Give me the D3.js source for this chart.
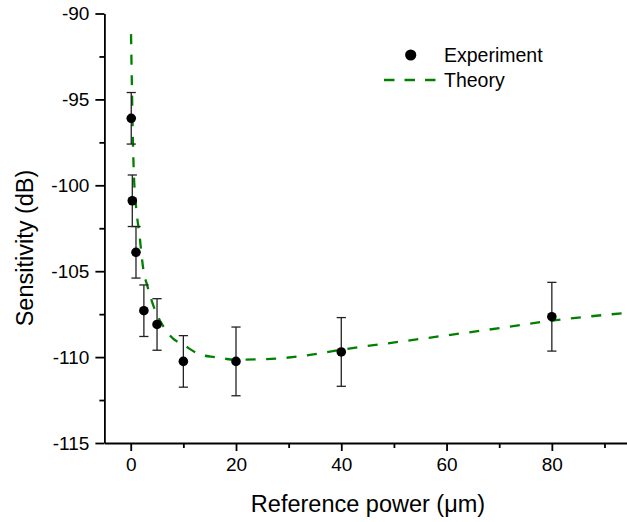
<!DOCTYPE html>
<html>
<head>
<meta charset="utf-8">
<script src="https://cdn.jsdelivr.net/npm/d3@7"></script>
<style>
  body { margin: 0; background: #fff; }
  svg text { font-family: "Liberation Sans", Arial, Helvetica, sans-serif; fill: #000; }
  .axis path, .axis line { stroke: #000; stroke-width: 1.8; }
</style>
</head>
<body>
<svg id="chart"></svg>
<script>
// measured points
var expPower = [0.1, 0.3, 1, 2.5, 5, 10, 20, 40, 80]
var expSens = [-96.1, -100.9, -103.9, -107.3, -108.1, -110.25, -110.25, -109.7, -107.65]
var expErr = [1.5, 1.5, 1.5, 1.5, 1.5, 1.5, 2, 2, 2]

// theory curve
var theoryPower = [0.06, 0.2, 0.44, 0.57, 1.0, 1.63, 2.4, 3.2, 4.3, 7.1, 10.6, 13.2, 16, 20, 25.8, 32.2, 40.4, 51.2, 66.4, 80.8, 95]
var theorySens = [-91.2, -93.8, -97.7, -99.1, -101.2, -102.8, -104.9, -105.9, -107.0, -108.6, -109.4, -109.85, -110.0, -110.15, -110.12, -109.95, -109.55, -109.1, -108.47, -107.85, -107.4]

var xTicks = [0, 20, 40, 60, 80]
var xMinorTicks = [10, 30, 50, 70, 90]
var yTicks = [-115, -110, -105, -100, -95, -90]
var yMinorTicks = [-112.5, -107.5, -102.5, -97.5, -92.5]
var legendLabels = ['Experiment', 'Theory']

var width = 627, height = 522
var svg = d3.select('#chart').attr('width', width).attr('height', height)

var x = d3.scaleLinear().domain([-5, 95]).range([104.4, 630.8])
var y = d3.scaleLinear().domain([-115, -90]).range([443, 13.5])
var green = '#008000'

// axes
var xAxis = svg.append('g')
  .attr('class', 'x axis')
  .attr('transform', 'translate(0,' + y(-115) + ')')
  .call(d3.axisBottom(x).tickValues(xTicks).tickSize(8).tickSizeOuter(0).tickPadding(7))
xAxis.selectAll('text').style('font-size', '19px')

svg.append('g')
  .attr('class', 'x axis')
  .attr('transform', 'translate(0,' + y(-115) + ')')
  .call(d3.axisBottom(x).tickValues(xMinorTicks).tickSize(5).tickSizeOuter(0).tickFormat(''))
  .select('.domain').remove()

var yAxis = svg.append('g')
  .attr('class', 'y axis')
  .attr('transform', 'translate(' + x(-5) + ',0)')
  .call(d3.axisLeft(y).tickValues(yTicks).tickSize(9).tickSizeOuter(0).tickPadding(6)
    .tickFormat(function(d) { return String(d).replace('\u2212', '-') }))
yAxis.selectAll('text').style('font-size', '19px')

svg.append('g')
  .attr('class', 'y axis')
  .attr('transform', 'translate(' + x(-5) + ',0)')
  .call(d3.axisLeft(y).tickValues(yMinorTicks).tickSize(5).tickSizeOuter(0).tickFormat(''))
  .select('.domain').remove()

// axis titles
svg.append('text')
  .attr('x', 368)
  .attr('y', 512)
  .attr('text-anchor', 'middle')
  .style('font-size', '23.5px')
  .text('Reference power (\u03bcm)')

svg.append('text')
  .attr('transform', 'translate(33,248) rotate(-90)')
  .attr('text-anchor', 'middle')
  .style('font-size', '23.5px')
  .text('Sensitivity (dB)')

// theory line
var line = d3.line()
  .x(function(d, i) { return x(theoryPower[i]) })
  .y(function(d) { return y(d) })
  .curve(d3.curveMonotoneX)

svg.append('path')
  .datum(theorySens)
  .attr('d', line)
  .attr('fill', 'none')
  .attr('stroke', green)
  .attr('stroke-width', 2.3)
  .attr('stroke-dasharray', '10,10.5')

// error bars + dots
var pts = svg.selectAll('.pt')
  .data(expSens)
  .enter()
  .append('g')
  .attr('class', 'pt')

pts.append('line')
  .attr('x1', function(d, i) { return x(expPower[i]) })
  .attr('x2', function(d, i) { return x(expPower[i]) })
  .attr('y1', function(d, i) { return y(d + expErr[i]) })
  .attr('y2', function(d, i) { return y(d - expErr[i]) })
  .attr('stroke', '#222')
  .attr('stroke-width', 1.3)

;[1, -1].forEach(function(s) {
  pts.append('line')
    .attr('x1', function(d, i) { return x(expPower[i]) - 4.6 })
    .attr('x2', function(d, i) { return x(expPower[i]) + 4.6 })
    .attr('y1', function(d, i) { return y(d + s * expErr[i]) })
    .attr('y2', function(d, i) { return y(d + s * expErr[i]) })
    .attr('stroke', '#222')
    .attr('stroke-width', 1.3)
})

pts.append('circle')
  .attr('cx', function(d, i) { return x(expPower[i]) })
  .attr('cy', function(d) { return y(d) })
  .attr('r', 4.8)
  .attr('fill', '#000')

// legend
var legend = svg.append('g').attr('transform', 'translate(384,55)')
legend.append('circle').attr('cx', 26.7).attr('cy', 0).attr('r', 5.6).attr('fill', '#000')
legend.append('line')
  .attr('x1', 0).attr('x2', 52).attr('y1', 25).attr('y2', 25)
  .attr('stroke', green).attr('stroke-width', 2.3).attr('stroke-dasharray', '10.5,10')
legend.selectAll('.lab')
  .data(legendLabels)
  .enter()
  .append('text')
  .attr('class', 'lab')
  .attr('x', 60)
  .attr('y', function(d, i) { return 7 + i * 24.5 })
  .style('font-size', '19.5px')
  .text(function(d) { return d })
</script>
</body>
</html>
